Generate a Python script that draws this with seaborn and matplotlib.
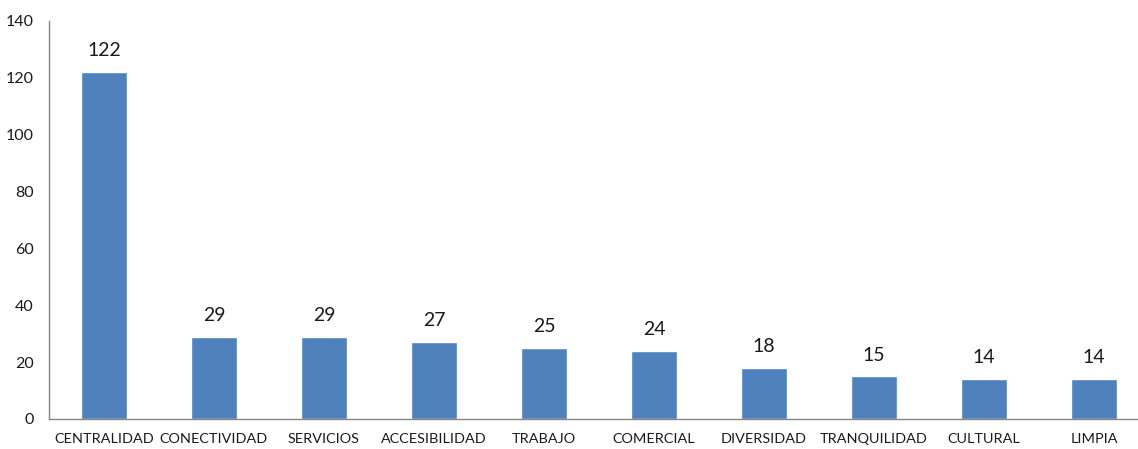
import pandas as pd
import numpy as np
import matplotlib
matplotlib.use('Agg')
import matplotlib.pyplot as plt
import seaborn as sns

categorias = ['CENTRALIDAD', 'CONECTIVIDAD', 'SERVICIOS', 'ACCESIBILIDAD', 'TRABAJO',
              'COMERCIAL', 'DIVERSIDAD', 'TRANQUILIDAD', 'CULTURAL', 'LIMPIA']
valores = [122, 29, 29, 27, 25, 24, 18, 15, 14, 14]

sns.set_style('white')
plt.rcParams['font.family'] = ['Lato', 'DejaVu Sans']

df = pd.DataFrame({'cat': categorias, 'n': valores})

fig = plt.figure(figsize=(11.38, 4.49), dpi=100)
ax = fig.add_axes([49 / 1138, 30 / 449, 1100 / 1138, 398 / 449])
sns.barplot(data=df, x='cat', y='n', color='#4F81BD', saturation=1, width=0.41, ax=ax)

for i, v in enumerate(valores):
    ax.text(i, v + 4.5, str(v), ha='center', va='bottom', fontsize=14, color='#1a1a1a')

ax.set_xlim(-0.5, len(categorias) - 0.5)
ax.set_ylim(0, 140)
ax.set_yticks(range(0, 141, 20))
ax.set_xticks(np.arange(len(categorias)))
ax.set_xticklabels(categorias)
ax.set_xticks(np.arange(len(categorias)) - 0.5, minor=True)
ax.tick_params(axis='x', which='major', length=0, pad=10, labelsize=10.4, colors='#1a1a1a')
ax.tick_params(axis='x', which='minor', length=5, color='#868686', direction='out')
ax.tick_params(axis='y', length=5, color='#868686', direction='out', labelsize=11.5,
               labelcolor='#1a1a1a', pad=6)
ax.set_xlabel('')
ax.set_ylabel('')
for s in ['top', 'right']:
    ax.spines[s].set_visible(False)
for s in ['left', 'bottom']:
    ax.spines[s].set_color('#868686')
    ax.spines[s].set_linewidth(1)

fig.savefig('out.png', dpi=100)
